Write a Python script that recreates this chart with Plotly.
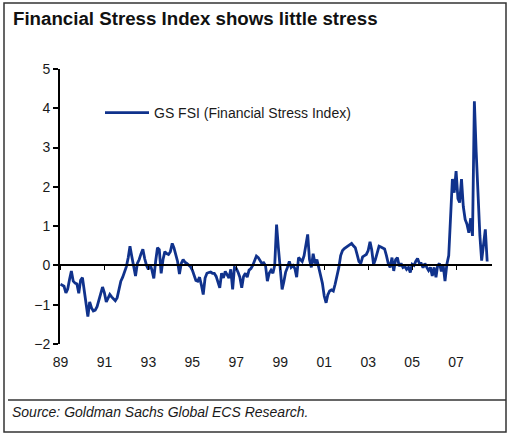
import pandas as pd
import plotly.graph_objects as go

# GS FSI, monthly from Jan 1989
start_month = "1989-01-01"
fsi = [
    -0.48, -0.50, -0.53, -0.70, -0.60, -0.35, -0.14, -0.40, -0.45, -0.47, -0.71, -0.38,  # 1989
    -0.31, -0.65, -0.95, -1.30, -0.93, -1.08, -1.16, -1.14, -1.05, -0.88, -0.70, -0.55,  # 1990
    -0.70, -0.93, -0.84, -0.74, -0.80, -0.86, -0.90, -0.82, -0.58, -0.40, -0.30, -0.15,  # 1991
    -0.03, 0.20, 0.49, 0.22, 0.00, -0.27, 0.05, 0.15, 0.30, 0.41, 0.17, 0.00,  # 1992
    -0.10, 0.02, -0.12, -0.33, 0.10, 0.45, 0.40, -0.20, 0.15, 0.35, 0.30, 0.28,  # 1993
    0.35, 0.56, 0.45, 0.30, 0.10, -0.22, 0.05, 0.15, 0.08, 0.05, 0.00, -0.03,  # 1994
    -0.12, -0.25, -0.38, -0.40, -0.30, -0.50, -0.74, -0.32, -0.20, -0.18, -0.17, -0.20,  # 1995
    -0.20, -0.28, -0.45, -0.57, -0.20, -0.32, -0.15, -0.22, -0.32, -0.10, -0.61, -0.05,  # 1996
    -0.08, -0.18, -0.30, -0.57, -0.28, -0.20, -0.30, -0.12, -0.08, 0.00, 0.15, 0.24,  # 1997
    0.20, 0.13, 0.05, 0.07, 0.00, -0.40, -0.20, -0.12, -0.20, 0.00, 1.04, 0.45,  # 1998
    -0.14, -0.61, -0.42, -0.17, -0.05, 0.10, -0.05, 0.00, -0.08, -0.30, 0.20, 0.15,  # 1999
    0.10, 0.25, 0.55, 0.79, 0.15, -0.05, 0.30, 0.05, 0.15, -0.05, -0.18, -0.45,  # 2000
    -0.78, -0.95, -0.75, -0.65, -0.62, -0.65, -0.48, -0.28, -0.05, 0.25, 0.38, 0.43,  # 2001
    0.46, 0.50, 0.53, 0.56, 0.50, 0.45, 0.28, 0.10, 0.05, 0.22, 0.25, 0.28,  # 2002
    0.38, 0.60, 0.40, 0.02, 0.15, 0.35, 0.49, 0.47, 0.45, 0.42, 0.25, 0.05,  # 2003
    -0.05, 0.20, -0.14, 0.15, 0.20, -0.02, 0.05, -0.05, -0.02, -0.10, -0.05, -0.18,  # 2004
    0.03, 0.00, 0.10, 0.18, 0.05, 0.05, -0.06, 0.05, -0.05, -0.13, -0.05, -0.27,  # 2005
    -0.05, -0.30, 0.00, 0.05, -0.15, 0.00, -0.40, 0.03, 0.25, 1.30, 2.20, 1.85,  # 2006
    2.40, 1.70, 1.60, 2.20, 1.50, 1.17, 1.05, 0.83, 1.20, 0.75, 4.18, 2.90,  # 2007
    1.70, 0.75, 0.12, 0.60, 0.92, 0.10,  # 2008
]
dates = pd.date_range(start_month, periods=len(fsi), freq="MS")

title_text = "Financial Stress Index shows little stress"
series_name = "GS FSI (Financial Stress Index)"
source_text = "Source: Goldman Sachs Global ECS Research."

W, H = 510, 436
L, R, T, B = 60, 18, 69, 92
pw, ph = W - L - R, H - T - B

def px(x):  # pixel -> paper x
    return (x - L) / pw

def py(y):  # pixel -> paper y
    return (H - B - y) / ph

fig = go.Figure()
fig.add_trace(go.Scatter(x=dates, y=fsi, mode="lines", name=series_name,
                         line=dict(color="#10328c", width=2.8)))

fig.update_layout(
    width=W, height=H,
    margin=dict(l=L, r=R, t=T, b=B),
    paper_bgcolor="white", plot_bgcolor="white",
    font=dict(family="Liberation Sans, Arial, sans-serif", size=14, color="#1a1a1a"),
    title=dict(text="<b>" + title_text + "</b>", x=13 / W, xanchor="left",
               y=1 - 18 / H, yanchor="middle",
               font=dict(size=18.7, color="#111111", family="Liberation Sans, Arial")),
    showlegend=True,
    legend=dict(x=px(100), y=py(113), xanchor="left", yanchor="middle",
                itemwidth=44, bgcolor="rgba(0,0,0,0)",
                font=dict(size=14, color="#1a1a1a")),
    xaxis=dict(type="date", range=["1988-12-24", "2008-08-20"],
               tick0="1989-01-01", dtick="M24", tickformat="%y",
               anchor="free", position=2 / 7,
               showline=True, linecolor="black", linewidth=1.5,
               ticks="outside", ticklen=4, tickcolor="black", tickwidth=1.2,
               ticklabelstandoff=80, showgrid=False, zeroline=False,
               tickfont=dict(size=14)),
    yaxis=dict(range=[-2, 5], dtick=1, showline=True, linecolor="black", linewidth=2,
               ticks="outside", ticklen=5, tickcolor="black", tickwidth=1.5,
               showgrid=False, zeroline=False, tickfont=dict(size=14)),
    shapes=[
        dict(type="rect", xref="paper", yref="paper",
             x0=px(4), x1=px(506), y0=py(432), y1=py(3),
             line=dict(color="#333333", width=1.5)),
        dict(type="line", xref="paper", yref="paper",
             x0=px(8), x1=px(506), y0=py(400), y1=py(400),
             line=dict(color="#333333", width=1.5)),
    ],
    annotations=[
        dict(text="<i>" + source_text + "</i>", xref="paper", yref="paper",
             x=px(10), y=py(412), xanchor="left", yanchor="middle", showarrow=False,
             font=dict(size=14, color="#1a1a1a")),
    ],
)

fig.write_html("out.html", config={"displayModeBar": False},
               post_script="document.body.style.margin = '0px';")
